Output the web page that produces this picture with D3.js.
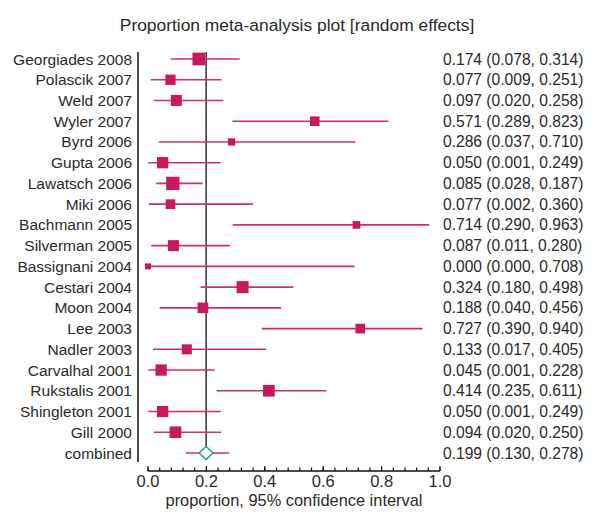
<!DOCTYPE html>
<html>
<head>
<meta charset="utf-8">
<script src="https://cdn.jsdelivr.net/npm/d3@7"></script>
<style>
  html, body { margin: 0; padding: 0; background: #fff; }
  svg { display: block; }
  text { font-family: "Liberation Sans", Arial, sans-serif; fill: #2a2a2a; }
</style>
</head>
<body>
<svg id="chart" width="598" height="515"></svg>
<script>
// ---- data ----
const studies = ["Georgiades 2008","Polascik 2007","Weld 2007","Wyler 2007","Byrd 2006","Gupta 2006",
  "Lawatsch 2006","Miki 2006","Bachmann 2005","Silverman 2005","Bassignani 2004","Cestari 2004",
  "Moon 2004","Lee 2003","Nadler 2003","Carvalhal 2001","Rukstalis 2001","Shingleton 2001","Gill 2000"];
const proportion = [0.174,0.077,0.097,0.571,0.286,0.050,0.085,0.077,0.714,0.087,0.000,0.324,0.188,0.727,0.133,0.045,0.414,0.050,0.094];
const lower      = [0.078,0.009,0.020,0.289,0.037,0.001,0.028,0.002,0.290,0.011,0.000,0.180,0.040,0.390,0.017,0.001,0.235,0.001,0.020];
const upper      = [0.314,0.251,0.258,0.823,0.710,0.249,0.187,0.360,0.963,0.280,0.708,0.498,0.456,0.940,0.405,0.228,0.611,0.249,0.250];
const weight     = [12.7,10.3,11.0,9.6,7.3,11.3,13.3,9.7,7.7,11.0,6.0,12.0,10.7,9.7,10.0,11.3,11.7,11.3,11.7];
const combinedLabel = "combined";
const combined = {est: 0.199, lo: 0.130, hi: 0.278};
const xTicks = [0, 0.2, 0.4, 0.6, 0.8, 1.0];
const title = "Proportion meta-analysis plot [random effects]";
const xTitle = "proportion, 95% confidence interval";

// ---- layout ----
const svg = d3.select("#chart");
const mag = "#c8195f", lineCol = "#cf2f6c", teal = "#1f9a8c";
const x = d3.scaleLinear().domain([0, 1]).range([148, 440]);
const rows = studies.concat([combinedLabel]);
const y = d3.scalePoint().domain(rows).range([59, 453]);
const size = d3.scaleLinear().domain([0, 1]).range([0, 1]);
const fmt = d3.format(".3f");

svg.append("text").attr("x", 297).attr("y", 31).attr("text-anchor", "middle")
  .style("font-size", "17.4px").text(title);

// left labels
svg.append("g").selectAll("text").data(rows).join("text")
  .attr("x", 132).attr("y", d => y(d) + 5.5).attr("text-anchor", "end")
  .style("font-size", "15.5px").text(d => d);

// right labels
const rightText = studies.map((s, i) => `${fmt(proportion[i])} (${fmt(lower[i])}, ${fmt(upper[i])})`)
  .concat([`${fmt(combined.est)} (${fmt(combined.lo)}, ${fmt(combined.hi)})`]);
svg.append("g").selectAll("text").data(rows).join("text")
  .attr("x", 443).attr("y", (d, i) => y(d) + 5.5).attr("text-anchor", "start")
  .style("font-size", "15.6px").text((d, i) => rightText[i]);

// left vertical line
svg.append("line").attr("x1", 138).attr("x2", 138).attr("y1", 52).attr("y2", 462)
  .attr("stroke", "#111").attr("stroke-width", 1.5);

// centre line at combined estimate
svg.append("line").attr("x1", x(combined.est)).attr("x2", x(combined.est))
  .attr("y1", 52).attr("y2", y(combinedLabel) - 7)
  .attr("stroke", "#111").attr("stroke-width", 1.3);

// CI lines
const g = svg.append("g");
g.selectAll("line.ci").data(studies).join("line").attr("class", "ci")
  .attr("x1", (d, i) => x(lower[i])).attr("x2", (d, i) => x(upper[i]))
  .attr("y1", d => y(d)).attr("y2", d => y(d))
  .attr("stroke", lineCol).attr("stroke-width", 1.6);
g.selectAll("rect").data(studies).join("rect")
  .attr("x", (d, i) => x(proportion[i]) - size(weight[i]) / 2)
  .attr("y", (d, i) => y(d) - size(weight[i]) / 2)
  .attr("width", (d, i) => size(weight[i])).attr("height", (d, i) => size(weight[i]))
  .attr("fill", mag);

// combined
const cy = y(combinedLabel), cx = x(combined.est);
g.append("line").attr("x1", x(combined.lo)).attr("x2", x(combined.hi)).attr("y1", cy).attr("y2", cy)
  .attr("stroke", lineCol).attr("stroke-width", 1.6);
g.append("path").attr("d", `M${cx - 7},${cy} L${cx},${cy - 6.5} L${cx + 7},${cy} L${cx},${cy + 6.5} Z`)
  .attr("fill", "#fff").attr("stroke", teal).attr("stroke-width", 1.5);

// x axis
const axisY = 471;
const ax = svg.append("g").attr("transform", `translate(0,${axisY})`);
ax.append("line").attr("x1", x(0)).attr("x2", x(1)).attr("stroke", "#111").attr("stroke-width", 1.3);
const minor = d3.range(0, 1.0001, 0.04);
ax.selectAll("line.minor").data(minor).join("line").attr("class", "minor")
  .attr("x1", d => x(d)).attr("x2", d => x(d)).attr("y1", 0).attr("y2", -3.5)
  .attr("stroke", "#111").attr("stroke-width", 1.2);
ax.selectAll("line.major").data(xTicks).join("line").attr("class", "major")
  .attr("x1", d => x(d)).attr("x2", d => x(d)).attr("y1", 0).attr("y2", -5)
  .attr("stroke", "#111").attr("stroke-width", 1.2);
ax.selectAll("text").data(xTicks).join("text")
  .attr("x", d => x(d)).attr("y", 15.5).attr("text-anchor", "middle")
  .style("font-size", "16.5px").text(d => d3.format(".1f")(d));
svg.append("text").attr("x", (x(0) + x(1)) / 2).attr("y", 505.5).attr("text-anchor", "middle")
  .style("font-size", "16.4px").text(xTitle);
</script>
</body>
</html>
